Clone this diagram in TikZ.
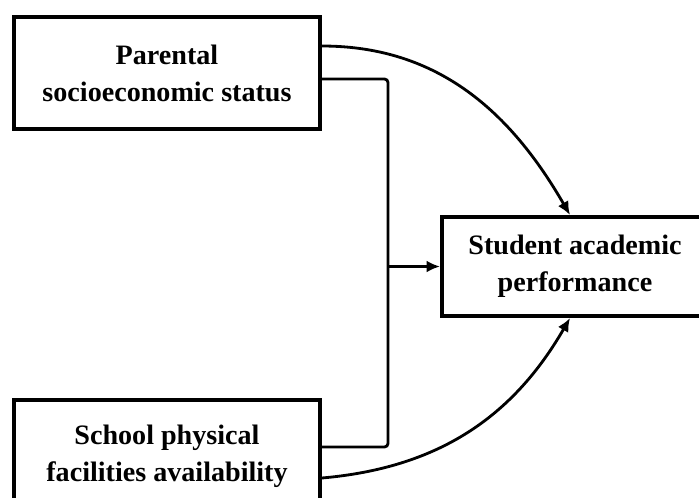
\documentclass[tikz,border=0pt]{standalone}
\usepackage{fontspec}
\setmainfont{Liberation Serif}
\usepackage{tikz}
\usetikzlibrary{arrows.meta}
\usetikzlibrary{positioning}

\tikzset{
    factor/.style={draw, rectangle, line width=2.3pt, align=center, font=\bfseries\fontsize{16}{21}\selectfont},
    link/.style={line width=1.6pt}
}

\begin{document}
\begin{tikzpicture}[x=0.02cm, y=-0.02cm, >={Latex[length=0.27cm, width=0.24cm]}]
            \useasboundingbox (0,0) rectangle (699,497);
            \node[factor, minimum width=6.12cm, minimum height=2.24cm] (ses) at (167,73) {Parental\\socioeconomic status};
            \node[factor, minimum width=6.12cm, minimum height=2.24cm] (facilities) at (167,456) {School physical\\facilities availability};
            \node[factor, minimum width=5.32cm, minimum height=1.98cm] (performance) at (575,266.5) {Student academic\\performance};
            \coordinate (join) at (388,266.5);

            \draw[link, rounded corners=2pt] ([yshift=-0.12cm]ses.east) -| (join) |- ([yshift=0.18cm]facilities.east);
            \draw[->,link] (join) -- (performance.west);
            \draw[->,link] ([yshift=0.54cm]ses.east) to[out=0, in=120] ([xshift=-0.1cm]performance.north);
            \draw[->,link] ([yshift=-0.44cm]facilities.east) to[out=5, in=-120] ([xshift=-0.1cm]performance.south);
        \end{tikzpicture}
\end{document}
